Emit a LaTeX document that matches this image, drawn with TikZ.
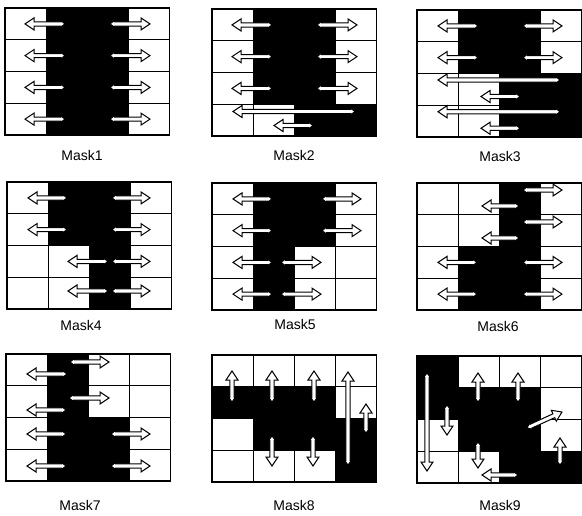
\documentclass[tikz,border=0pt]{standalone}
\usepackage{fontspec}
\setmainfont{Liberation Sans}
\tikzset{
  arrowline/.style={fill=white, draw=black, line width=1pt, line join=miter},
  fa/.pic={\draw[arrowline] (0,0) -- (4.5,3.4) -- (4.5,2.1) -- (#1-9,2.1) -- (#1-9,6) -- (#1,0) -- (#1-9,-6) -- (#1-9,-2.1) -- (4.5,-2.1) -- (4.5,-3.4) -- cycle;},
  gridline/.style={line width=0.9pt},
  frameline/.style={line width=1.4pt},
  lab/.style={font=\fontsize{14}{16}\selectfont, inner sep=0pt},
}
\newcommand\FA[4]{%
  \pgfmathsetmacro\fal{veclen((#3)-(#1),(#4)-(#2))}%
  \pgfmathsetmacro\faa{atan2((#2)-(#4),(#3)-(#1))}%
  \pic[rotate=\faa] at (#1,#2) {fa=\fal};}
\newcommand\BC[2]{\fill ({#1*41.125},{#2*31.75}) rectangle ++(41.125,31.75);}
\newcommand\Grid{%
  \foreach \i in {1,2,3} {%
    \draw[gridline] ({\i*41.125},0) -- ({\i*41.125},127);
    \draw[gridline] (0,{\i*31.75}) -- (164.5,{\i*31.75});}
  \draw[frameline] (0,0) rectangle (164.5,127);}
\begin{document}
\begin{tikzpicture}[x=1pt,y=-1pt]
\useasboundingbox[fill=white] (0,0) rectangle (582,515);
% ---------- Mask1
\begin{scope}[shift={(5,8)}]
  \foreach \r in {0,1,2,3} {\BC{1}{\r}\BC{2}{\r}}
  \Grid
  \foreach \y in {15.9,47.6,79.4,111.1} {\FA{60}{\y}{20}{\y}\FA{105}{\y}{145}{\y}}
\end{scope}
% ---------- Mask2
\begin{scope}[shift={(212,9)}]
  \foreach \r in {0,1,2} {\BC{1}{\r}\BC{2}{\r}}
  \BC{2}{3}\BC{3}{3}
  \Grid
  \foreach \y in {15.9,47.6,79.4} {\FA{60}{\y}{20}{\y}\FA{105}{\y}{145}{\y}}
  \FA{143}{102.5}{21}{102.5}
  \FA{101}{116.5}{62}{116.5}
\end{scope}
% ---------- Mask3
\begin{scope}[shift={(417,10)}]
  \foreach \r in {0,1} {\BC{1}{\r}\BC{2}{\r}}
  \foreach \r in {2,3} {\BC{2}{\r}\BC{3}{\r}}
  \Grid
  \foreach \y in {15.9,47.6} {\FA{61}{\y}{21}{\y}\FA{106}{\y}{145}{\y}}
  \foreach \y in {70,101.75} {\FA{143}{\y}{21}{\y}\FA{103}{\y+16.5}{64}{\y+16.5}}
\end{scope}
% ---------- Mask4
\begin{scope}[shift={(7,182)}]
  \foreach \r in {0,1} {\BC{1}{\r}\BC{2}{\r}}
  \BC{2}{2}\BC{2}{3}
  \Grid
  \foreach \y in {15.9,47.6} {\FA{60}{\y}{21}{\y}\FA{105}{\y}{143}{\y}}
  \foreach \y in {79.4,109} {\FA{101}{\y}{61}{\y}\FA{105}{\y}{143}{\y}}
\end{scope}
% ---------- Mask5
\begin{scope}[shift={(212,183)}]
  \foreach \r in {0,1} {\BC{1}{\r}\BC{2}{\r}}
  \BC{1}{2}\BC{1}{3}
  \Grid
  \foreach \y in {15.9,47.6} {\FA{60}{\y}{21}{\y}\FA{110}{\y}{149}{\y}}
  \foreach \y in {79.4,111.1} {\FA{60}{\y}{21}{\y}\FA{69}{\y}{109}{\y}}
\end{scope}
% ---------- Mask6
\begin{scope}[shift={(417,183)}]
  \BC{2}{0}\BC{2}{1}
  \foreach \r in {2,3} {\BC{1}{\r}\BC{2}{\r}}
  \Grid
  \foreach \y in {7,39} {\FA{106}{\y}{145}{\y}\FA{102}{\y+16}{65}{\y+16}}
  \foreach \y in {79.4,111.1} {\FA{60}{\y}{21}{\y}\FA{106}{\y}{145}{\y}}
\end{scope}
% ---------- Mask7
\begin{scope}[shift={(6,354)}]
  \BC{1}{0}\BC{1}{1}
  \foreach \r in {2,3} {\BC{1}{\r}\BC{2}{\r}}
  \Grid
  \FA{64}{8}{103}{8}\FA{61}{20}{21}{20}
  \FA{63}{44}{103}{44}\FA{60}{56}{21}{56}
  \foreach \y in {80,112} {\FA{60}{\y}{21}{\y}\FA{105}{\y}{144}{\y}}
\end{scope}
% ---------- Mask8
\begin{scope}[shift={(212,355)}]
  \BC{0}{1}\BC{1}{1}\BC{2}{1}
  \BC{1}{2}\BC{2}{2}\BC{3}{2}
  \BC{3}{3}
  \Grid
  \FA{20}{47}{20}{16}
  \FA{60}{47}{60}{16}\FA{60}{81}{60}{111}
  \FA{102}{47}{102}{16}\FA{101}{81}{101}{111}
  \FA{136}{110}{136}{17}
  \FA{154}{78}{154}{49}
\end{scope}
% ---------- Mask9
\begin{scope}[shift={(417,356)}]
  \BC{0}{0}\BC{0}{1}\BC{1}{1}\BC{2}{1}
  \BC{1}{2}\BC{2}{2}\BC{2}{3}\BC{3}{3}
  \Grid
  \FA{10}{17}{10}{115}
  \FA{30}{49}{30}{79}
  \FA{61}{46}{61}{17}
  \FA{101}{46}{101}{17}
  \FA{61}{86}{61}{112}
  \FA{101}{119}{65}{119}
  \FA{143}{109}{143}{82}
  \FA{110}{72}{145}{56}
\end{scope}
% ---------- labels
\node[lab] (m1) at (82,155) {Mask1};
\node[lab] (m2) at (294,155) {Mask2};
\node[lab] (m3) at (500,156) {Mask3};
\node[lab] (m4) at (81,325) {Mask4};
\node[lab] (m5) at (295,324) {Mask5};
\node[lab] (m6) at (498,326) {Mask6};
\node[lab] (m7) at (80,505) {Mask7};
\node[lab] (m8) at (294,505) {Mask8};
\node[lab] (m9) at (500,505) {Mask9};
\end{tikzpicture}
\end{document}
